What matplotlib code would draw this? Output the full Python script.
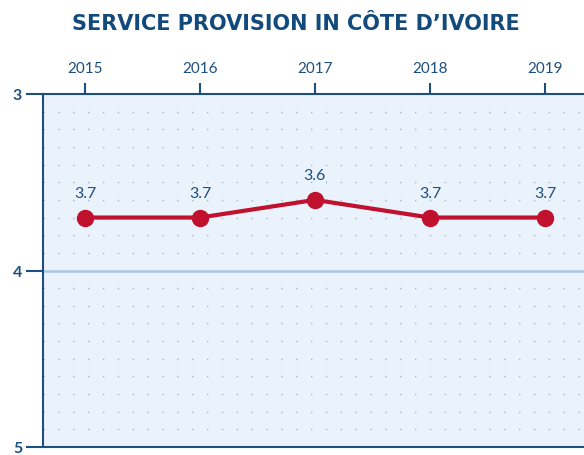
import matplotlib.pyplot as plt
import numpy as np

# datos del gráfico
years = [2015, 2016, 2017, 2018, 2019]
values = [3.7, 3.7, 3.6, 3.7, 3.7]
labels = ["3.7", "3.7", "3.6", "3.7", "3.7"]
y_ticks = [3, 4, 5]

azul = "#1d4f80"
azul_titulo = "#124a7c"
rojo = "#c0122f"
fondo = "#eaf2fb"

plt.rcParams['font.family'] = ['Lato', 'DejaVu Sans']

fig = plt.figure(figsize=(5.84, 4.56), dpi=100)
ax = fig.add_axes([43 / 584, 8 / 456, 1 - 43 / 584, 353 / 456])
ax.set_facecolor(fondo)

ax.set_xlim(2014.635, 2019.34)
ax.set_ylim(5, 3)

# puntos de la rejilla (líneas punteadas cada 0.1)
for yy in np.arange(3.1, 5.0, 0.1):
    if abs(yy - 4) < 1e-6:
        continue
    ax.axhline(yy, color="#a9b8c8", lw=1.0, linestyle=(0, (1, 9.7)), zorder=1)
ax.axhline(4, color="#a8c8e6", lw=1.8, zorder=1)

# línea de datos
ax.plot(years, values, color=rojo, lw=3, marker="o", markersize=11.5, zorder=3)
for x, y, t in zip(years, values, labels):
    ax.text(x, y - 0.1, t, ha="center", va="bottom", color=azul, fontsize=11.5)

# ejes
for s in ["left", "top", "bottom"]:
    ax.spines[s].set_color(azul)
    ax.spines[s].set_linewidth(1.5)
ax.spines["right"].set_visible(False)

ax.xaxis.tick_top()
ax.set_xticks(years)
ax.set_xticklabels([str(a) for a in years])
ax.tick_params(axis="x", colors=azul, length=8, width=1.5, pad=6, labelsize=11)
ax.set_yticks(y_ticks)
ax.set_yticklabels([str(v) for v in y_ticks], fontweight="bold")
ax.tick_params(axis="y", colors=azul, length=12, width=1.5, pad=3, labelsize=11.5)

fig.text(0.507, 0.948, "SERVICE PROVISION IN CÔTE D\u2019IVOIRE", ha="center", va="center",
         color=azul_titulo, fontsize=15, fontweight="bold",
         family=["DejaVu Sans"])

fig.savefig("out.png", dpi=100)
